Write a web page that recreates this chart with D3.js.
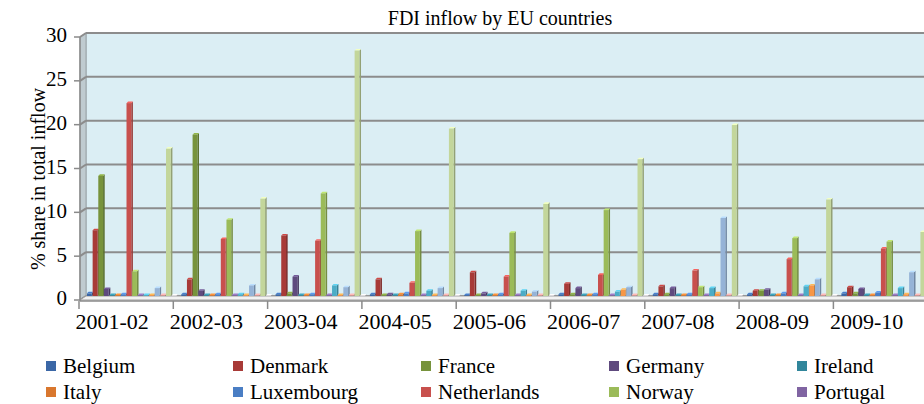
<!DOCTYPE html>
<html><head><meta charset="utf-8">
<script src="https://cdn.jsdelivr.net/npm/d3@7"></script>
<style>html,body{margin:0;padding:0;background:#fff;}svg{display:block;font-family:"Liberation Serif","Times New Roman",serif;}</style>
</head><body>
<svg id="c" width="924" height="404"></svg>
<script>
const categories = ["2001-02","2002-03","2003-04","2004-05","2005-06","2006-07","2007-08","2008-09","2009-10"];
const seriesNames = ["Belgium","Denmark","France","Germany","Ireland","Italy","Luxembourg","Netherlands","Norway","Portugal","Spain","Sweden","Switzerland","Greece","UK","Others"];
const seriesColors = ["#3B67A6","#A83A37","#77933C","#5F4A7E","#31869B","#D9772E","#4A7EC4","#C8504D","#9BBB59","#8064A2","#4BACC6","#F79646","#95B3D7","#D99694","#C3D69B","#EEEAF2"];
const belgium     = [0.3, 0.2, 0.2, 0.2, 0.1, 0.2, 0.2, 0.2, 0.3];
const denmark     = [7.5, 1.9, 6.9, 1.9, 2.7, 1.4, 1.1, 0.6, 1.0];
const france      = [13.7, 18.4, 0.3, 0.1, 0.1, 0.2, 0.2, 0.6, 0.3];
const germany     = [0.8, 0.6, 2.2, 0.2, 0.3, 0.9, 0.9, 0.7, 0.8];
const ireland     = [0.1, 0.1, 0.1, 0.1, 0.1, 0.1, 0.1, 0.1, 0.1];
const italy       = [0.1, 0.1, 0.1, 0.2, 0.1, 0.1, 0.1, 0.1, 0.1];
const luxembourg  = [0.2, 0.2, 0.2, 0.3, 0.2, 0.2, 0.2, 0.3, 0.4];
const netherlands = [22.0, 6.5, 6.3, 1.5, 2.2, 2.4, 2.9, 4.2, 5.4];
const norway      = [2.8, 8.7, 11.7, 7.4, 7.2, 9.8, 1.0, 6.6, 6.2];
const portugal    = [0.1, 0.1, 0.1, 0.1, 0.1, 0.1, 0.1, 0.1, 0.1];
const spain       = [0.1, 0.2, 1.2, 0.6, 0.6, 0.5, 0.9, 1.1, 0.9];
const sweden      = [0.1, 0.1, 0.1, 0.1, 0.1, 0.7, 0.3, 1.2, 0.2];
const switzerland = [0.9, 1.2, 1.0, 0.9, 0.5, 1.0, 8.9, 1.9, 2.7];
const greece      = [0.1, 0.1, 0.1, 0.1, 0.1, 0.1, 0.1, 0.1, 0.1];
const uk          = [16.8, 11.1, 28.0, 19.1, 10.5, 15.6, 19.5, 11.0, 7.3];
const others      = [0.05, 0.05, 0.05, 0.05, 0.05, 0.05, 0.05, 0.05, 0.05];
const seriesValues = [belgium,denmark,france,germany,ireland,italy,luxembourg,netherlands,norway,portugal,spain,sweden,switzerland,greece,uk,others];
const yTicks = [0,5,10,15,20,25,30];
const visibleLegendCount = 10; // the reference image is cropped after the second legend row

const svg = d3.select("#c");
const DX = 6, DY = 4;           // 3D depth offset (back is up-right)
const wallL = 86, wallR = 934;
const y = d3.scaleLinear().domain([0,30]).range([296,33]);
const x0 = d3.scaleBand().domain(categories).range([85, 85 + 94.3*9]).padding(0);
const x1 = d3.scaleBand().domain(seriesNames).range([2, x0.bandwidth()-2]).padding(0);

// back wall
svg.append("rect").attr("x",wallL).attr("y",y(30)).attr("width",wallR-wallL).attr("height",y(0)-y(30))
  .attr("fill","#DBEEF4").attr("stroke","#9AA4A8").attr("stroke-width",1);
// side wall
svg.append("polygon").attr("points",[[wallL-DX,y(30)+DY],[wallL,y(30)],[wallL,y(0)],[wallL-DX,y(0)+DY]].join(" "))
  .attr("fill","#BFCBD0").attr("stroke","#9AA4A8");
// gridlines
yTicks.forEach(t=>{
  svg.append("line").attr("x1",wallL).attr("x2",wallR).attr("y1",y(t)).attr("y2",y(t))
    .attr("stroke","#8C8C8C").attr("stroke-width",2);
  svg.append("line").attr("x1",wallL-DX).attr("x2",wallL).attr("y1",y(t)+DY).attr("y2",y(t))
    .attr("stroke","#8C8C8C").attr("stroke-width",2);
});
// floor
svg.append("polygon").attr("points",[[wallL,y(0)],[wallR,y(0)],[wallR-DX,y(0)+DY],[wallL-DX,y(0)+DY]].join(" "))
  .attr("fill","#F2F2F2").attr("stroke","#A0A0A0");

// bars
const bw = x1.bandwidth()*0.85, bd = 1.6;
categories.forEach((c,ci)=>{
  const g = svg.append("g");
  seriesNames.forEach((s,si)=>{
    const v = seriesValues[si][ci];
    const xl = x0(c) + x1(s);
    const yt = y(v), yb = y(0);
    const col = d3.color(seriesColors[si]);
    g.append("polygon").attr("points",[[xl+bw,yt],[xl+bw+bd,yt-bd],[xl+bw+bd,yb-bd],[xl+bw,yb]].join(" "))
      .attr("fill",col.darker(0.8));
    g.append("polygon").attr("points",[[xl,yt],[xl+bd,yt-bd],[xl+bw+bd,yt-bd],[xl+bw,yt]].join(" "))
      .attr("fill",col.brighter(0.6));
    g.append("rect").attr("x",xl).attr("y",yt).attr("width",bw).attr("height",Math.max(0.5,yb-yt))
      .attr("fill",col);
  });
});

// axes (front)
const axisColor = "#8A8A8A";
svg.append("line").attr("x1",wallL-DX).attr("x2",wallL-DX).attr("y1",y(30)+DY).attr("y2",y(0)+DY+1)
  .attr("stroke",axisColor).attr("stroke-width",1.5);
svg.append("line").attr("x1",wallL-DX).attr("x2",924).attr("y1",y(0)+DY+1).attr("y2",y(0)+DY+1)
  .attr("stroke",axisColor).attr("stroke-width",1.5);
yTicks.forEach(t=>{
  svg.append("line").attr("x1",wallL-DX-6).attr("x2",wallL-DX).attr("y1",y(t)+DY).attr("y2",y(t)+DY)
    .attr("stroke",axisColor).attr("stroke-width",1.5);
  svg.append("text").attr("x",67).attr("y",y(t)+2).attr("dy","0.35em").attr("text-anchor","end")
    .attr("font-size",21).attr("fill","#000").text(t);
});
categories.forEach((c,ci)=>{
  const xb = x0(c) - DX;
  svg.append("line").attr("x1",xb).attr("x2",xb).attr("y1",y(0)+DY+1).attr("y2",y(0)+DY+9)
    .attr("stroke",axisColor).attr("stroke-width",1.5);
  svg.append("text").attr("x",xb + x0.bandwidth()/2 - 14).attr("y",329).attr("text-anchor","middle")
    .attr("font-size",22).attr("fill","#000").text(c);
});
{
  const xb = x0(categories[8]) - DX + x0.bandwidth();
  svg.append("line").attr("x1",xb).attr("x2",xb).attr("y1",y(0)+DY+1).attr("y2",y(0)+DY+9)
    .attr("stroke",axisColor).attr("stroke-width",1.5);
}

// title
svg.append("text").attr("x",500).attr("y",25).attr("text-anchor","middle").attr("font-size",20)
  .attr("fill","#000").text("FDI inflow by EU countries");
// y label
svg.append("text").attr("transform","translate(45,179) rotate(-90)").attr("text-anchor","middle")
  .attr("font-size",20).attr("fill","#000").text("% share in total inflow");

// legend
const legCols = [46, 233, 421, 609, 797];
seriesNames.slice(0, visibleLegendCount).forEach((s,i)=>{
  const r = Math.floor(i/5), k = i%5;
  const yy = 366 + r*26;
  svg.append("rect").attr("x",legCols[k]).attr("y",yy-5).attr("width",10).attr("height",10)
    .attr("fill",seriesColors[i]);
  svg.append("text").attr("x",legCols[k]+17).attr("y",yy+7).attr("font-size",21).attr("fill","#000").text(s);
});
</script>
</body></html>
